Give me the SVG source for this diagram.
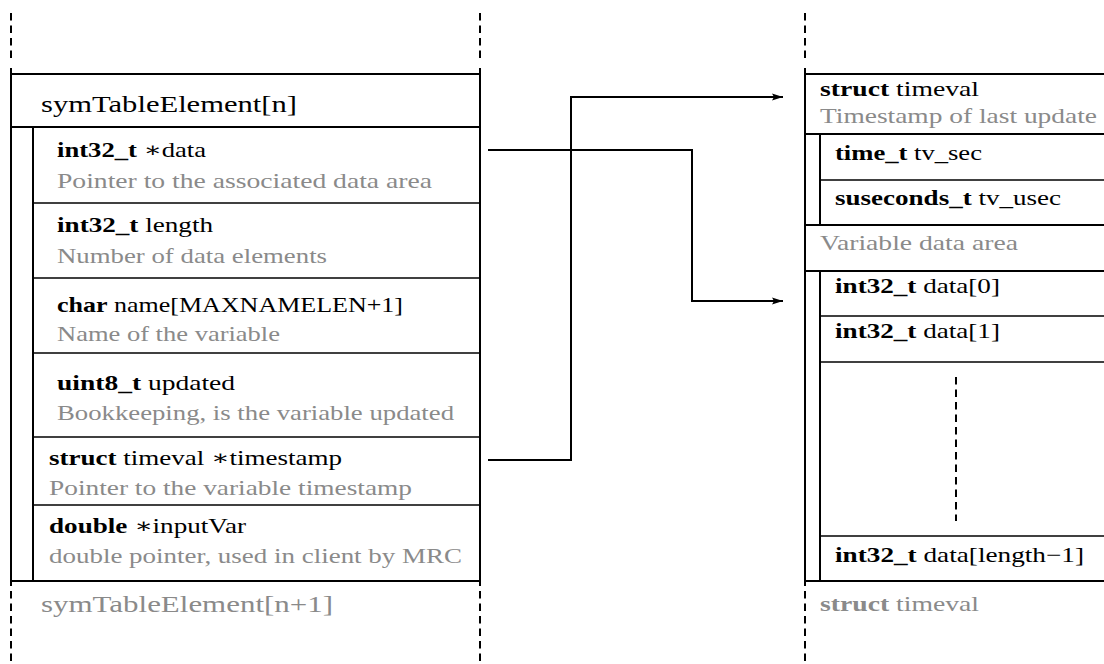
<svg xmlns="http://www.w3.org/2000/svg" width="1104" height="664" viewBox="0 0 1104 664">
<style>
.ln{stroke:#000;stroke-width:2;fill:none}
.sp{stroke:#000;stroke-width:1.7;fill:none}
.dash{stroke:#000;stroke-width:2;fill:none;stroke-dasharray:7.5 5}
.t{font-family:"Liberation Serif","DejaVu Serif",serif;font-size:21px;fill:#000}
.h{font-size:24px}
.g{fill:#8a8a8a}
.b{font-weight:bold}
</style>
<defs>
<marker id="arr" markerUnits="userSpaceOnUse" markerWidth="12" markerHeight="8" refX="11" refY="4" orient="auto">
<path d="M0,0.6 L11,4 L0,7.4 L2,4 Z" fill="#000"/>
</marker>
</defs>
<rect width="1104" height="664" fill="#fff"/>

<g id="frame-left">
<path class="dash" d="M11,13 V63 M480,13 V63 M11,591 V664 M480,591 V664"/>
<path class="ln" d="M11,68 V586 M480,68 V586 M11,74 H480 M11,127 H480 M33,127 V581 M11,581 H480"/>
</g>

<g id="symTableElement-n">
<text class="t h" x="41" y="112" textLength="256" lengthAdjust="spacingAndGlyphs">symTableElement[n]</text>
</g>

<g id="row-data">
<text class="t" x="57" y="157" textLength="149" lengthAdjust="spacingAndGlyphs"><tspan class="b">int32_t</tspan> ∗data</text>
<text class="t g" x="57" y="188" textLength="375" lengthAdjust="spacingAndGlyphs">Pointer to the associated data area</text>
<path class="sp" d="M33,203 H480"/>
</g>

<g id="row-length">
<text class="t" x="57" y="232" textLength="156" lengthAdjust="spacingAndGlyphs"><tspan class="b">int32_t</tspan> length</text>
<text class="t g" x="57" y="263" textLength="270" lengthAdjust="spacingAndGlyphs">Number of data elements</text>
<path class="sp" d="M33,278 H480"/>
</g>

<g id="row-name">
<text class="t" x="57" y="312" textLength="346" lengthAdjust="spacingAndGlyphs"><tspan class="b">char</tspan> name[MAXNAMELEN+1]</text>
<text class="t g" x="57" y="341" textLength="223" lengthAdjust="spacingAndGlyphs">Name of the variable</text>
<path class="sp" d="M33,353 H480"/>
</g>

<g id="row-updated">
<text class="t" x="57" y="390" textLength="178" lengthAdjust="spacingAndGlyphs"><tspan class="b">uint8_t</tspan> updated</text>
<text class="t g" x="57" y="420" textLength="397" lengthAdjust="spacingAndGlyphs">Bookkeeping, is the variable updated</text>
<path class="sp" d="M33,437 H480"/>
</g>

<g id="row-timestamp">
<text class="t" x="49" y="465" textLength="293" lengthAdjust="spacingAndGlyphs"><tspan class="b">struct</tspan> timeval ∗timestamp</text>
<text class="t g" x="49" y="495" textLength="363" lengthAdjust="spacingAndGlyphs">Pointer to the variable timestamp</text>
<path class="sp" d="M33,505 H480"/>
</g>

<g id="row-inputVar">
<text class="t" x="49" y="533" textLength="197" lengthAdjust="spacingAndGlyphs"><tspan class="b">double</tspan> ∗inputVar</text>
<text class="t g" x="49" y="563" textLength="413" lengthAdjust="spacingAndGlyphs">double pointer, used in client by MRC</text>
</g>

<g id="symTableElement-n1">
<text class="t h g" x="41" y="612" textLength="292" lengthAdjust="spacingAndGlyphs">symTableElement[n+1]</text>
</g>

<g id="frame-right">
<path class="dash" d="M805,13 V63 M805,591 V664 M956,377 V521"/>
<path class="ln" d="M805,68 V586 M805,74 H1104 M805,134 H1104 M820,134 V225 M805,225 H1104 M805,271 H1104 M820,271 V581 M805,581 H1104"/>
</g>

<g id="timeval">
<text class="t" x="820" y="96" textLength="159" lengthAdjust="spacingAndGlyphs"><tspan class="b">struct</tspan> timeval</text>
<text class="t g" x="820" y="123" textLength="277" lengthAdjust="spacingAndGlyphs">Timestamp of last update</text>
</g>

<g id="tv_sec">
<text class="t" x="835" y="160" textLength="147" lengthAdjust="spacingAndGlyphs"><tspan class="b">time_t</tspan> tv_sec</text>
<path class="sp" d="M820,180 H1104"/>
</g>

<g id="tv_usec">
<text class="t" x="835" y="205" textLength="226" lengthAdjust="spacingAndGlyphs"><tspan class="b">suseconds_t</tspan> tv_usec</text>
</g>

<g id="data-area">
<text class="t g" x="820" y="250" textLength="198" lengthAdjust="spacingAndGlyphs">Variable data area</text>
</g>

<g id="data0">
<text class="t" x="835" y="293" textLength="165" lengthAdjust="spacingAndGlyphs"><tspan class="b">int32_t</tspan> data[0]</text>
<path class="sp" d="M820,316 H1104"/>
</g>

<g id="data1">
<text class="t" x="835" y="338" textLength="165" lengthAdjust="spacingAndGlyphs"><tspan class="b">int32_t</tspan> data[1]</text>
<path class="sp" d="M820,362 H1104"/>
</g>

<g id="data-last">
<path class="sp" d="M820,536 H1104"/>
<text class="t" x="835" y="562" textLength="249" lengthAdjust="spacingAndGlyphs"><tspan class="b">int32_t</tspan> data[length−1]</text>
</g>

<g id="timeval-next">
<text class="t g" x="820" y="611" textLength="159" lengthAdjust="spacingAndGlyphs"><tspan class="b">struct</tspan> timeval</text>
</g>

<g id="connectors">
<path class="ln" d="M488,150 H692 V301 H783" marker-end="url(#arr)"/>
<path class="ln" d="M488,460 H571 V97 H783" marker-end="url(#arr)"/>
</g>
</svg>
